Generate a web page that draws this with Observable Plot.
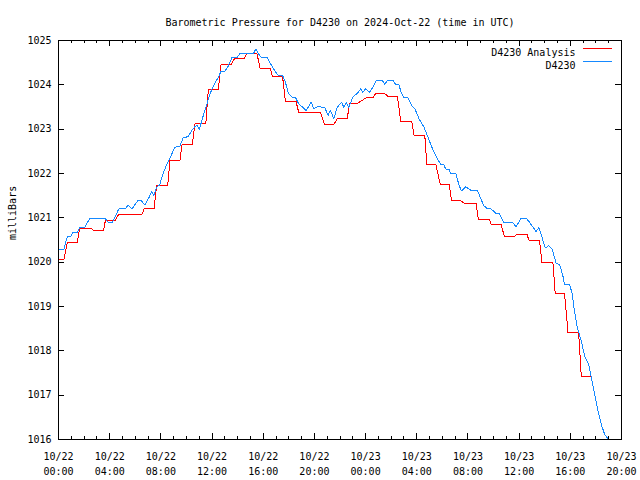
<!DOCTYPE html>
<html>
<head>
<meta charset="utf-8">
<script src="https://cdn.jsdelivr.net/npm/d3@7"></script>
<script src="https://cdn.jsdelivr.net/npm/@observablehq/plot@0.6"></script>
<style>
  html, body { margin: 0; padding: 0; background: #fff; }
</style>
</head>
<body>
<div id="chart"></div>
<script>
// ---- Data (hours after 2024-10-22 00:00 UTC) ----
const titleText = "Barometric Pressure for D4230 on 2024-Oct-22 (time in UTC)";
const yLabel = "milliBars";
const seriesNames = ["D4230 Analysis", "D4230"];
const seriesColors = ["#ff0000", "#1589ff"];

const obsHours = [0,0.42,0.68,0.94,1.12,1.47,1.65,2.04,2.43,3.66,3.92,4.18,4.47,4.71,5.23,5.44,5.75,6.22,6.43,6.75,7.06,7.27,7.45,7.66,7.92,8.10,8.39,8.71,8.96,9.10,9.49,9.75,10.14,10.41,10.67,10.85,11.00,11.32,11.58,11.84,12.18,12.49,12.71,13.02,13.28,13.55,13.94,14.20,15.24,15.43,15.61,15.84,16.29,16.49,16.73,16.99,17.20,17.51,17.73,17.98,18.25,18.51,18.77,19.06,19.35,19.56,19.76,19.94,20.24,20.81,21.07,21.25,21.51,21.78,22.12,22.30,22.49,22.69,23.00,23.43,23.61,23.79,24.00,24.31,24.57,24.84,25.31,25.51,25.70,26.14,26.35,26.59,26.82,27.00,27.29,27.66,27.87,28.18,28.57,28.84,29.18,29.62,29.88,30.10,30.27,30.51,30.67,31.06,31.32,31.50,31.84,32.29,32.76,33.02,33.25,33.55,33.80,34.20,34.45,34.64,34.80,35.51,35.76,36.16,36.55,36.81,37.33,37.54,37.80,38.04,38.30,38.59,38.90,39.16,39.42,39.55,39.94,40.13,40.29,40.55,40.86,41.12,41.44,41.65,41.91,42.17,42.43,42.69,42.90];
const obsPress = [1020.29,1020.29,1020.57,1020.57,1020.67,1020.67,1020.78,1020.78,1020.98,1020.98,1020.89,1020.89,1021.05,1021.20,1021.20,1021.29,1021.20,1021.40,1021.40,1021.29,1021.45,1021.59,1021.50,1021.68,1021.75,1021.94,1022.16,1022.35,1022.51,1022.59,1022.62,1022.81,1022.83,1022.97,1023.06,1023.08,1022.99,1023.31,1023.55,1023.80,1024.02,1024.17,1024.31,1024.31,1024.43,1024.61,1024.61,1024.71,1024.71,1024.81,1024.71,1024.62,1024.62,1024.52,1024.40,1024.28,1024.21,1024.21,1024.06,1023.80,1023.72,1023.72,1023.57,1023.50,1023.42,1023.52,1023.61,1023.46,1023.51,1023.49,1023.31,1023.43,1023.23,1023.49,1023.61,1023.49,1023.61,1023.49,1023.72,1023.83,1023.91,1023.83,1023.91,1023.83,1023.95,1024.10,1024.10,1024.01,1024.10,1024.10,1024.01,1024.01,1023.80,1023.71,1023.71,1023.51,1023.45,1023.23,1023.04,1022.85,1022.59,1022.33,1022.20,1022.20,1022.10,1022.10,1021.99,1021.99,1021.72,1021.61,1021.70,1021.61,1021.61,1021.42,1021.27,1021.20,1021.20,1021.10,1021.10,1020.99,1020.89,1020.89,1020.80,1020.99,1020.99,1020.90,1020.69,1020.78,1020.55,1020.32,1020.37,1020.29,1019.97,1019.95,1019.69,1019.49,1019.49,1019.31,1018.97,1018.52,1018.22,1017.88,1017.69,1017.39,1017.01,1016.64,1016.33,1016.11,1016.03];

const anaHours = [0,0.42,0.68,1.47,1.65,2.51,2.77,3.51,3.66,4.39,4.71,6.53,6.69,7.47,7.66,8.53,8.71,9.49,9.65,10.45,10.67,11.51,11.71,12.49,12.71,13.49,13.75,14.53,14.72,15.51,15.76,16.55,16.73,17.51,17.73,18.56,18.77,20.47,20.81,21.51,21.78,22.56,22.75,23.35,23.69,24.05,24.57,24.78,25.51,25.78,26.49,26.75,27.61,27.79,28.63,28.78,29.49,29.83,30.53,30.72,31.45,31.71,32.63,32.81,33.67,33.80,34.59,34.85,35.61,35.76,36.63,36.75,37.59,37.78,38.64,38.82,39.55,39.82,40.65,40.86,41.65];
const anaPress = [1020.05,1020.05,1020.44,1020.44,1020.77,1020.77,1020.71,1020.71,1020.93,1020.93,1021.08,1021.08,1021.20,1021.20,1021.72,1021.72,1022.29,1022.29,1022.65,1022.65,1023.12,1023.12,1023.89,1023.89,1024.46,1024.46,1024.59,1024.59,1024.71,1024.71,1024.36,1024.36,1024.19,1024.19,1023.63,1023.63,1023.38,1023.37,1023.10,1023.10,1023.23,1023.23,1023.58,1023.58,1023.64,1023.71,1023.71,1023.80,1023.80,1023.73,1023.73,1023.18,1023.18,1022.85,1022.85,1022.21,1022.21,1021.76,1021.76,1021.38,1021.38,1021.33,1021.33,1020.97,1020.97,1020.86,1020.86,1020.57,1020.57,1020.62,1020.62,1020.50,1020.50,1019.99,1019.99,1019.29,1019.29,1018.41,1018.41,1017.41,1017.41];

const yTicks = [1016,1017,1018,1019,1020,1021,1022,1023,1024,1025];
const majorTickHours = [0,4,8,12,16,20,24,28,32,36,40,44];
const minorTickHours = d3.range(0, 45, 1);

// ---- Build ----
const t0 = Date.UTC(2024, 9, 22, 0, 0);
const toDate = h => new Date(t0 + h * 3600e3);
const analysis = anaHours.map((h, i) => ({t: toDate(h), p: anaPress[i]}));
const observed = obsHours.map((h, i) => ({t: toDate(h), p: obsPress[i]}));
const majorTicks = majorTickHours.map(toDate);
const minorTicks = minorTickHours.filter(h => h % 4 !== 0).map(toDate);

const W = 640, H = 480;
const mL = 58, mR = 19, mT = 40, mB = 41;
const fw = W - mL - mR, fh = H - mT - mB;
const fmt = d3.utcFormat("%m/%d\n%H:%M");
const lineShape = {draw(ctx, l) { ctx.moveTo(0, 0); ctx.lineTo(0, -l); }};

const chart = Plot.plot({
  width: W, height: H,
  marginLeft: mL, marginRight: mR, marginTop: mT, marginBottom: mB,
  style: {fontFamily: "'DejaVu Sans Mono', monospace", fontSize: "10px", background: "#fff", color: "#000"},
  x: {type: "utc", domain: [toDate(0), toDate(44)]},
  y: {domain: [1016, 1025]},
  marks: [
    Plot.axisY({ticks: yTicks, tickSize: 0, tickPadding: 7, label: null, tickFormat: d => String(d)}),
    Plot.axisX({ticks: majorTicks, tickSize: 0, tickPadding: 10, label: null, tickFormat: fmt, lineHeight: 1.5}),
    Plot.ruleX(majorTicks, {insetTop: fh - 6, stroke: "#000", shapeRendering: "crispEdges"}),
    Plot.ruleX(majorTicks, {insetBottom: fh - 6, stroke: "#000", shapeRendering: "crispEdges"}),
    Plot.ruleX(minorTicks, {insetTop: fh - 3, stroke: "#000", shapeRendering: "crispEdges"}),
    Plot.ruleX(minorTicks, {insetBottom: fh - 3, stroke: "#000", shapeRendering: "crispEdges"}),
    Plot.ruleY(yTicks, {insetRight: fw - 6, stroke: "#000", shapeRendering: "crispEdges"}),
    Plot.ruleY(yTicks, {insetLeft: fw - 6, stroke: "#000", shapeRendering: "crispEdges"}),
    Plot.line(analysis, {x: "t", y: "p", stroke: seriesColors[0], strokeWidth: 1, shapeRendering: "crispEdges"}),
    Plot.line(observed, {x: "t", y: "p", stroke: seriesColors[1], strokeWidth: 1, shapeRendering: "crispEdges"}),
    Plot.frame({stroke: "#000", shapeRendering: "crispEdges"}),
    Plot.text([titleText], {frameAnchor: "top", dy: -22, fontSize: 10}),
    Plot.text([yLabel], {frameAnchor: "left", rotate: -90, dx: -46}),
    Plot.text([seriesNames[0]], {frameAnchor: "top-right", dx: -46, dy: 8, textAnchor: "end"}),
    Plot.text([seriesNames[1]], {frameAnchor: "top-right", dx: -46, dy: 21, textAnchor: "end"}),
    Plot.vector([seriesNames[0]], {frameAnchor: "top-right", dx: -38, dy: 8, length: 28, rotate: 90, anchor: "start", shape: lineShape, stroke: seriesColors[0], strokeWidth: 1, shapeRendering: "crispEdges"}),
    Plot.vector([seriesNames[1]], {frameAnchor: "top-right", dx: -38, dy: 21, length: 28, rotate: 90, anchor: "start", shape: lineShape, stroke: seriesColors[1], strokeWidth: 1, shapeRendering: "crispEdges"})
  ]
});
document.getElementById("chart").appendChild(chart);
</script>
</body>
</html>
